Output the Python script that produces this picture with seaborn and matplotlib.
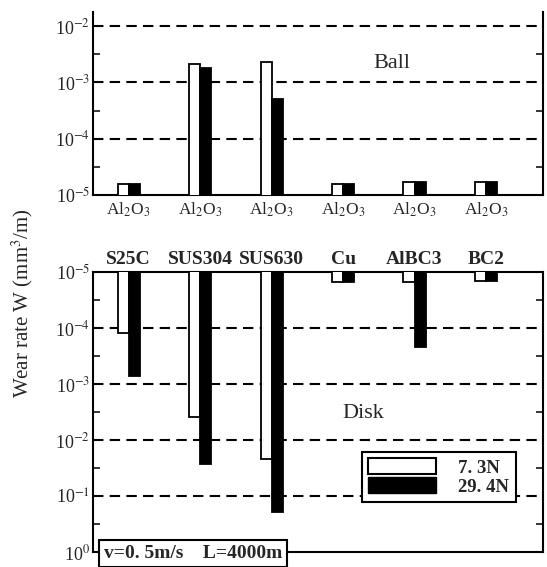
import numpy as np
import pandas as pd
import seaborn as sns
import matplotlib.pyplot as plt
from matplotlib.patches import Patch
from matplotlib.ticker import FixedLocator

# 数据
loads = ['7.3N', '29.4N']
ball_names = ['Al$_2$O$_3$'] * 6
disk_names = ['S25C', 'SUS304', 'SUS630', 'Cu', 'AlBC3', 'BC2']
ball_73 = [1.6e-5, 2.1e-3, 2.3e-3, 1.6e-5, 1.7e-5, 1.7e-5]
ball_294 = [1.6e-5, 1.8e-3, 5.0e-4, 1.6e-5, 1.7e-5, 1.7e-5]
disk_73 = [1.2e-4, 3.9e-3, 2.2e-2, 1.5e-5, 1.5e-5, 1.45e-5]
disk_294 = [7.2e-4, 2.7e-2, 1.9e-1, 1.5e-5, 2.2e-4, 1.45e-5]

ball = pd.DataFrame({
    'pos': list(range(6)) * 2,
    'load': [loads[0]] * 6 + [loads[1]] * 6,
    'W': ball_73 + ball_294,
})
disk = pd.DataFrame({
    'pos': list(range(6)) * 2,
    'load': [loads[0]] * 6 + [loads[1]] * 6,
    'W': disk_73 + disk_294,
})

sns.set_style('ticks')
plt.rcParams['font.family'] = ['Liberation Serif', 'DejaVu Serif']
plt.rcParams['mathtext.fontset'] = 'stix'

colors = {'7.3N': 'white', '29.4N': 'black'}

fig = plt.figure(figsize=(5.47, 5.67), dpi=100)
ax1 = fig.add_axes([0.170, 0.656, 0.823, 0.323])
ax2 = fig.add_axes([0.170, 0.026, 0.823, 0.494])

for ax, df in [(ax1, ball), (ax2, disk)]:
    sns.barplot(data=df, x='pos', y='W', hue='load', palette=colors,
                hue_order=loads, width=0.31, gap=0, errorbar=None,
                edgecolor='black', linewidth=1.3, legend=False, ax=ax,
                zorder=3)
    ax.set_yscale('log')
    ax.set_xlim(-0.5, 5.8)
    ax.set_xlabel('')
    ax.set_ylabel('')
    for s in ax.spines.values():
        s.set_linewidth(1.5)
        s.set_color('black')
    ax.tick_params(axis='x', length=0)
    ax.tick_params(axis='y', which='both', direction='in', right=True,
                   labelsize=13, pad=2)
    ax.tick_params(axis='y', which='major', length=0)
    ax.tick_params(axis='y', which='minor', length=5, width=1.3)

# 上图：Ball
ax1.set_ylim(1e-5, 1.78e-2)
ax1.spines['top'].set_visible(False)
maj1 = [1e-5, 1e-4, 1e-3, 1e-2]
ax1.yaxis.set_major_locator(FixedLocator(maj1))
ax1.set_yticklabels(['10$^{-5}$', '10$^{-4}$', '10$^{-3}$', '10$^{-2}$'])
ax1.yaxis.set_minor_locator(FixedLocator([10 ** (e + 0.5) for e in [-5, -4, -3]]))
for v in maj1[1:]:
    ax1.axhline(v, color='black', ls=(0, (5, 3)), lw=1.5, zorder=1)
ax1.set_xticks(range(6))
ax1.set_xticklabels(ball_names, fontsize=12.5)
ax1.tick_params(axis='x', pad=4)
ax1.text(0.665, 0.72, 'Ball', transform=ax1.transAxes, fontsize=16,
         ha='center', va='center')

# 下图：Disk（倒置对数轴）
ax2.set_ylim(1, 1e-5)
maj2 = [1e-5, 1e-4, 1e-3, 1e-2, 1e-1, 1]
ax2.yaxis.set_major_locator(FixedLocator(maj2))
ax2.set_yticklabels(['10$^{-5}$', '10$^{-4}$', '10$^{-3}$', '10$^{-2}$',
                     '10$^{-1}$', '10$^{0}$'])
ax2.yaxis.set_minor_locator(FixedLocator([10 ** (e + 0.5) for e in [-5, -4, -3, -2, -1]]))
for v in maj2[1:-1]:
    ax2.axhline(v, color='black', ls=(0, (5, 3)), lw=1.5, zorder=1)
ax2.xaxis.tick_top()
ax2.set_xticks(range(6))
ax2.set_xticklabels(disk_names, fontsize=14, fontweight='bold')
ax2.tick_params(axis='x', pad=3)
ax2.text(0.6, 0.495, 'Disk', transform=ax2.transAxes, fontsize=16,
         ha='center', va='center')

handles = [Patch(facecolor='white', edgecolor='black', linewidth=1.5),
           Patch(facecolor='black', edgecolor='black')]
leg = ax2.legend(handles, ['7. 3N', '29. 4N'], loc='lower right',
                 bbox_to_anchor=(0.96, 0.145), fancybox=False, framealpha=1,
                 edgecolor='black', fontsize=13.5, handlelength=3.6,
                 handleheight=0.9, borderpad=0.35, labelspacing=0.05,
                 handletextpad=1.2, prop={'weight': 'bold', 'size': 13.5})
leg.get_frame().set_linewidth(1.5)
leg.set_zorder(5)

ax2.text(0.025, 0.027, 'v=0. 5m/s    L=4000m', transform=ax2.transAxes,
         fontsize=14, fontweight='bold', ha='left', va='top', zorder=6,
         bbox=dict(boxstyle='square,pad=0.25', facecolor='white',
                   edgecolor='black', linewidth=1.5))

fig.text(0.04, 0.465, 'Wear rate W (mm$^3$/m)', rotation=90, fontsize=15,
         ha='center', va='center')

fig.savefig('out.png', dpi=100)
